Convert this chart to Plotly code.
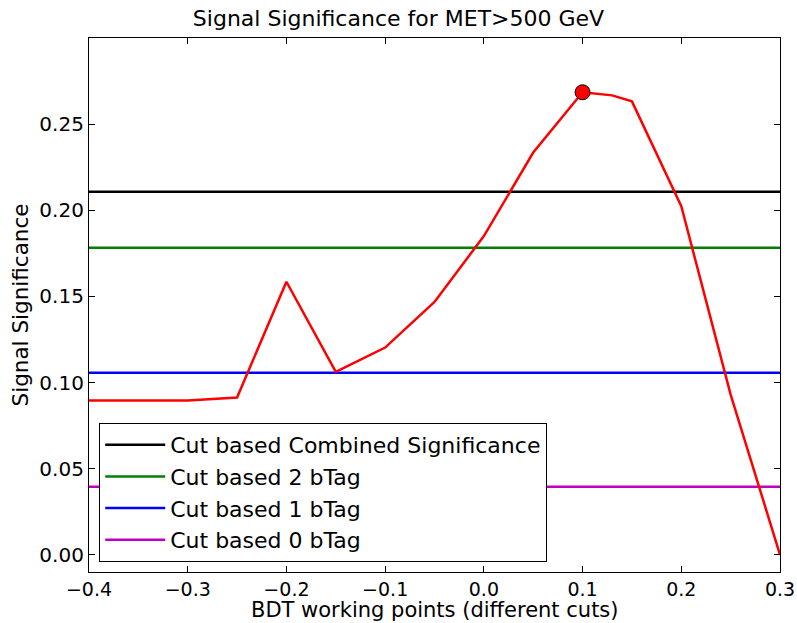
import plotly.graph_objects as go

bdt_cuts = [-0.4, -0.3, -0.25, -0.2, -0.15, -0.1, -0.05, -0.04, 0.0, 0.05, 0.1, 0.13, 0.15, 0.2, 0.25, 0.3]
significance = [0.0895, 0.0895, 0.0913, 0.1585, 0.1062, 0.1203, 0.1468, 0.1545, 0.1850, 0.2335, 0.2685, 0.2667, 0.2632, 0.2023, 0.0930, 0.0]

ref_names = ["Cut based Combined Significance", "Cut based 2 bTag", "Cut based 1 bTag", "Cut based 0 bTag"]
ref_values = [0.2108, 0.1782, 0.1057, 0.0395]
ref_colors = ["#000000", "#008000", "#0000ff", "#bf00bf"]

best_x = [0.1]
best_y = [0.2685]

x_ticks = [-0.4, -0.3, -0.2, -0.1, 0.0, 0.1, 0.2, 0.3]
y_ticks = [0.0, 0.05, 0.10, 0.15, 0.20, 0.25]

fig = go.Figure()
for name, val, col in zip(ref_names, ref_values, ref_colors):
    fig.add_trace(go.Scatter(x=[-0.4, 0.3], y=[val, val], mode="lines",
                             line=dict(color=col, width=2.5), name=name))
fig.add_trace(go.Scatter(x=bdt_cuts, y=significance, mode="lines",
                         line=dict(color="#ff0000", width=2.5), showlegend=False))
fig.add_trace(go.Scatter(x=best_x, y=best_y, mode="markers",
                         marker=dict(color="#ff0000", size=15, line=dict(color="black", width=1)),
                         showlegend=False))

font = "DejaVu Sans"
fig.update_layout(
    width=797, height=623,
    margin=dict(l=89, r=17, t=38, b=51, autoexpand=False),
    paper_bgcolor="white", plot_bgcolor="white",
    font=dict(family=font, size=20, color="black"),
    title=dict(text="Signal Significance for MET>500 GeV", x=0.5, xanchor="center",
               y=0.971, yanchor="middle", font=dict(size=22)),
    legend=dict(x=0.0145, y=0.019, xanchor="left", yanchor="bottom",
                bordercolor="black", borderwidth=1.2, bgcolor="white",
                font=dict(size=22), tracegroupgap=0, itemwidth=60),
    showlegend=True,
)
fig.add_annotation(text="BDT working points (different cuts)", xref="paper", yref="paper",
                   x=0.5, y=-0.0955, xanchor="center", yanchor="bottom", showarrow=False,
                   font=dict(size=21), borderpad=0)
fig.update_xaxes(range=[-0.4, 0.3], tickvals=x_ticks, tickformat=".1f", automargin=False,
                 ticks="inside", ticklen=6, tickcolor="black", mirror="allticks",
                 showline=True, linecolor="black", linewidth=1.2, showgrid=False, zeroline=False,
                 tickfont=dict(size=19))
fig.update_yaxes(range=[-0.01, 0.30], tickvals=y_ticks, tickformat=".2f", automargin=False,
                 ticks="inside", ticklen=6, tickcolor="black", mirror="allticks",
                 showline=True, linecolor="black", linewidth=1.2, showgrid=False, zeroline=False,
                 title=dict(text="Signal Significance", font=dict(size=21.5), standoff=4),
                 tickfont=dict(size=20))
fig.write_html("out.html")
